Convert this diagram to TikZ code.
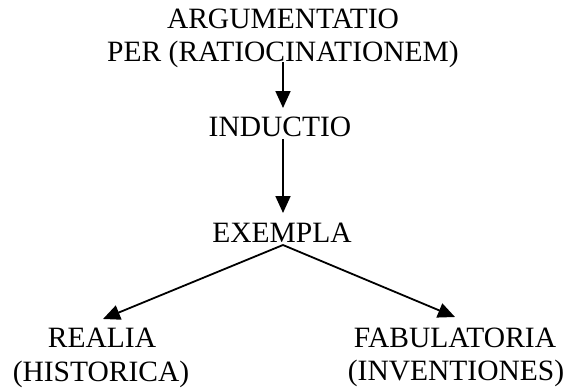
\documentclass[tikz,border=0pt]{standalone}
\usepackage{fontspec}
\setmainfont{Liberation Serif}
\usetikzlibrary{arrows.meta}
\begin{document}
\begin{tikzpicture}[x=1pt,y=1pt,
  lbl/.style={font=\fontsize{29.5}{33.5}\selectfont, inner sep=0pt, anchor=base},
  arr/.style={line width=1.8pt, -{Triangle[length=17pt,width=15pt]}}]
\useasboundingbox (0,0) rectangle (563,-391);
\node[lbl] (arg1) at (283,-28) {ARGUMENTATIO};
\node[lbl] (arg2) at (283,-61) {PER (RATIOCINATIONEM)};
\node[lbl] (ind) at (280,-136) {INDUCTIO};
\node[lbl] (exe) at (282,-242) {EXEMPLA};
\node[lbl] (real1) at (102,-347) {REALIA};
\node[lbl] (real2) at (101,-381) {(HISTORICA)};
\node[lbl] (fab1) at (455,-347) {FABULATORIA};
\node[lbl] (fab2) at (456,-380) {(INVENTIONES)};
\draw[arr] ([xshift=0pt,yshift=-1pt]arg2.base) -- ([xshift=3pt,yshift=28pt]ind.base);
\draw[arr] ([xshift=3pt,yshift=-3pt]ind.base) -- ([xshift=1pt,yshift=29pt]exe.base);
\draw[arr] ([xshift=1pt,yshift=-3pt]exe.base) -- ([xshift=1pt,yshift=28pt]real1.base);
\draw[arr] ([xshift=1pt,yshift=-3pt]exe.base) -- ([yshift=30pt]fab1.base);
\end{tikzpicture}
\end{document}
